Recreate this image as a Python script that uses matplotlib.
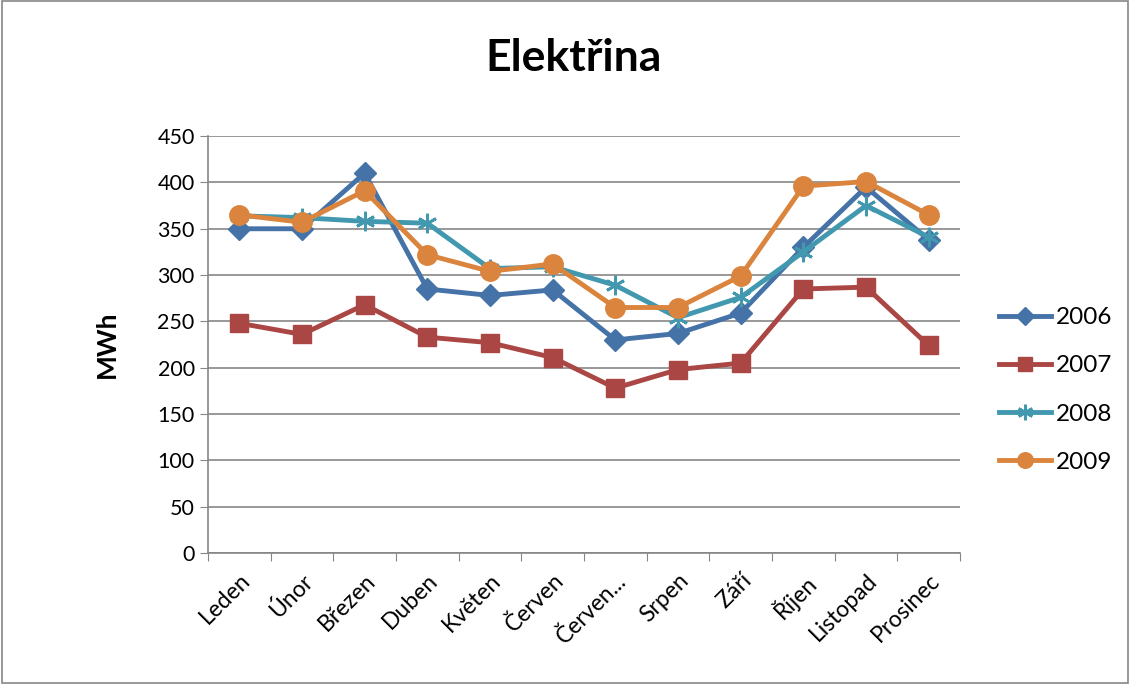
import numpy as np
import matplotlib.pyplot as plt

plt.rcParams['font.family'] = ['Lato', 'DejaVu Sans']

mesice = ['Leden', 'Únor', 'Březen', 'Duben', 'Květen', 'Červen',
          'Červen...', 'Srpen', 'Září', 'Říjen', 'Listopad', 'Prosinec']
r2006 = [350, 350, 410, 285, 278, 284, 230, 237, 259, 330, 395, 338]
r2007 = [248, 236, 268, 233, 227, 211, 178, 198, 205, 285, 287, 224]
r2008 = [364, 362, 358, 356, 307, 309, 289, 254, 276, 325, 375, 341]
r2009 = [365, 357, 391, 322, 304, 312, 265, 265, 299, 396, 401, 365]

fig = plt.figure(figsize=(11.3, 6.84), dpi=100)
ax = fig.add_axes([0.184, 0.1915, 0.6656, 0.6095])

# border around the whole chart
fig.patches.append(plt.Rectangle((0.002, 0.002), 0.996, 0.996, transform=fig.transFigure,
                                 fill=False, edgecolor='#868686', linewidth=1.2))

x = np.arange(len(mesice))
ax.plot(x, r2006, color='#4572A7', lw=3.5, marker='D', ms=11, label='2006')
ax.plot(x, r2007, color='#AA4643', lw=3.5, marker='s', ms=13, label='2007')
ax.plot(x, r2008, color='#4198AF', lw=3.5, marker=(6, 2, 0), ms=14, mew=2, label='2008')
ax.plot(x, r2009, color='#DB843D', lw=3.5, marker='o', ms=14, label='2009')

ax.set_ylim(0, 450)
ax.set_yticks(np.arange(0, 451, 50))
ax.set_xlim(-0.5, len(mesice) - 0.5)
ax.set_xticks(np.arange(-0.5, len(mesice), 1))
ax.set_xticklabels([])
ax.set_xticks(x, minor=True)
ax.set_xticklabels(mesice, minor=True, rotation=45, ha='right', rotation_mode='anchor', fontsize=16.5)
ax.tick_params(axis='x', which='minor', length=0, pad=12)
ax.tick_params(axis='x', which='major', length=6, color='#868686')
ax.tick_params(axis='y', labelsize=15.5, length=6, color='#868686')

ax.grid(axis='y', color='#868686', lw=1.2)
ax.set_axisbelow(True)
for s in ['top', 'right']:
    ax.spines[s].set_visible(False)
for s in ['left', 'bottom']:
    ax.spines[s].set_color('#868686')
    ax.spines[s].set_linewidth(1.2)

ax.set_ylabel('MWh', fontsize=19, fontweight='bold', labelpad=28)
fig.suptitle('Elektřina', fontsize=32, fontweight='bold', x=0.5075, y=0.945)

fig.legend(loc='center left', bbox_to_anchor=(0.884, 0.43), frameon=False,
           fontsize=17.5, labelspacing=1.12, handlelength=2.15, handletextpad=0.2,
           borderpad=0, borderaxespad=0, markerscale=0.8)

fig.savefig('out.png', dpi=100)
